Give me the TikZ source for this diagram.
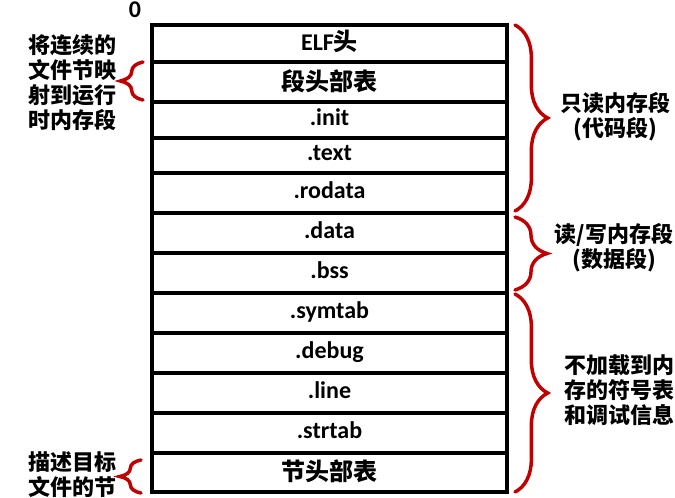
\documentclass[tikz,border=0pt]{standalone}
\usepackage{fontspec}
\setmainfont{Carlito}
\newfontfamily\cjk{Noto Sans CJK SC}
\usetikzlibrary{decorations.pathreplacing}
\definecolor{bracered}{HTML}{C00000}

\begin{document}
\begin{tikzpicture}[x=0.75pt, y=-0.75pt,
  cellline/.style={line width=2.5pt},
  cell/.style={font=\bfseries\fontsize{18}{20}\selectfont, anchor=base, inner sep=0pt},
  note/.style={font=\cjk\bfseries\fontsize{16.5}{18.8}\selectfont, align=center, inner sep=0pt},
  brc/.style={draw=bracered, line width=2.6pt, line cap=round, decorate,
    decoration={brace, amplitude=#1}}]
  \useasboundingbox (0,0) rectangle (675,497);

  % the sections of the file, top to bottom
  \foreach \ya/\yb/\dy/\txt/\nm in {25/62/7/{ELF{\cjk 头}}/elf, 62/102/8/{\cjk 段头部表}/phdr,
      102/138/5/.init/init, 138/173/5/.text/text, 173/213/5/.rodata/rodata,
      213/253/5/.data/data, 253/293/5/.bss/bss, 293/333/5/.symtab/symtab,
      333/373/5/.debug/debug, 373/413/5/.line/line, 413/453/5/.strtab/strtab,
      453/492/8/{\cjk 节头部表}/shdr} {
    \draw[cellline] (152,\ya) rectangle (507,\yb);
    \node[cell] (\nm) at (329.5,{(\ya+\yb)/2+\dy}) {\txt};
  }
  \node[font=\bfseries\fontsize{18}{20}\selectfont] (zero) at (135,10) {0};

  % braces
  \draw[brc=24.5pt] (515,25) -- (515,211);
  \draw[brc=24pt] (515,217) -- (515,290);
  \draw[brc=24.5pt] (515,294) -- (515,492);
  \draw[brc=17pt] (143,100) -- (143,62);
  \draw[brc=16pt] (141,493) -- (141,460);

  \node[note] (ronote) at (615,117) {只读内存段\\(代码段)};
  \node[note] (rwnote) at (614,248) {读/写内存段\\(数据段)};
  \node[note] (nonote) at (619,390) {不加载到内\\存的符号表\\和调试信息};
  \node[note] (mapnote) at (72,83) {将连续的\\文件节映\\射到运行\\时内存段};
  \node[note] (shdrnote) at (72,475) {描述目标\\文件的节};
\end{tikzpicture}
\end{document}
